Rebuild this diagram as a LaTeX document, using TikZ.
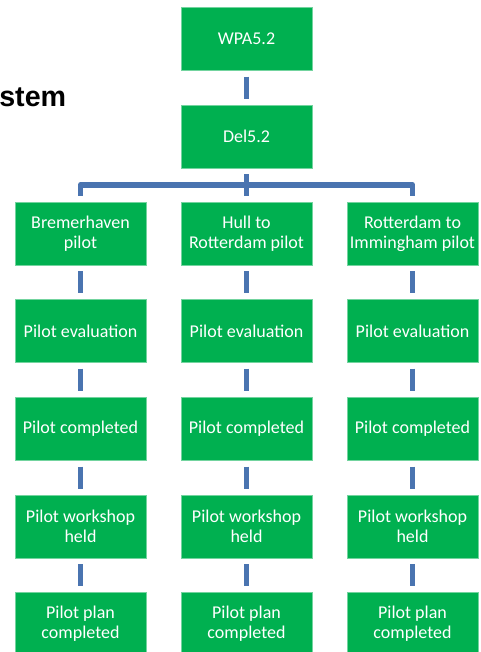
\documentclass[tikz,border=0pt]{standalone}
\usepackage{fontspec}
\setmainfont{Carlito}
\newfontfamily\headfont{Liberation Sans}
\definecolor{taskgreen}{RGB}{0,176,80}
\definecolor{linkblue}{RGB}{74,116,176}
\begin{document}
\begin{tikzpicture}[x=0.75pt,y=-0.75pt,
	task/.style={shape=rectangle,minimum width=98pt,minimum height=47pt,inner sep=1pt,
		draw=taskgreen!55!white,line width=0.4pt,fill=taskgreen,text=white,align=center,
		font=\fontsize{13.5}{15}\selectfont},
	link/.style={draw=linkblue,line width=4.3pt,shorten >=4.5pt,shorten <=4.5pt}]
	\useasboundingbox (0,0) rectangle (480,652);

	\node at (-1,97)[anchor=west,inner sep=0pt] {\headfont\bfseries\fontsize{21.5}{24}\selectfont stem};

	\node (wpa) at (246.5,39)[task] {WPA5.2};
	\node (del) at (246.5,136.5)[task] {Del5.2};
	\coordinate (fork) at (246.5,185);

	\node (a1) at (80.5,233.5)[task] {Bremerhaven\\pilot};
	\node (b1) at (246.5,233.5)[task] {Hull to\\Rotterdam pilot};
	\node (c1) at (412.5,233.5)[task] {Rotterdam to\\Immingham pilot};

	\draw[link] (wpa) -- (del);
	\draw[link] (del) -- (b1);
	\draw[link,line join=round] (a1.north) |- (fork) -| (c1.north);

	\foreach \col/\x in {a/80.5,b/246.5,c/412.5} {
		\node (\col2) at (\x,331)[task] {Pilot evaluation};
		\node (\col3) at (\x,429)[task] {Pilot completed};
		\node (\col4) at (\x,526.5)[task] {Pilot workshop\\held};
		\node (\col5) at (\x,623.5)[task] {Pilot plan\\completed};
		\draw[link] (\col1) -- (\col2);
		\draw[link] (\col2) -- (\col3);
		\draw[link] (\col3) -- (\col4);
		\draw[link] (\col4) -- (\col5);
	}
\end{tikzpicture}
\end{document}
